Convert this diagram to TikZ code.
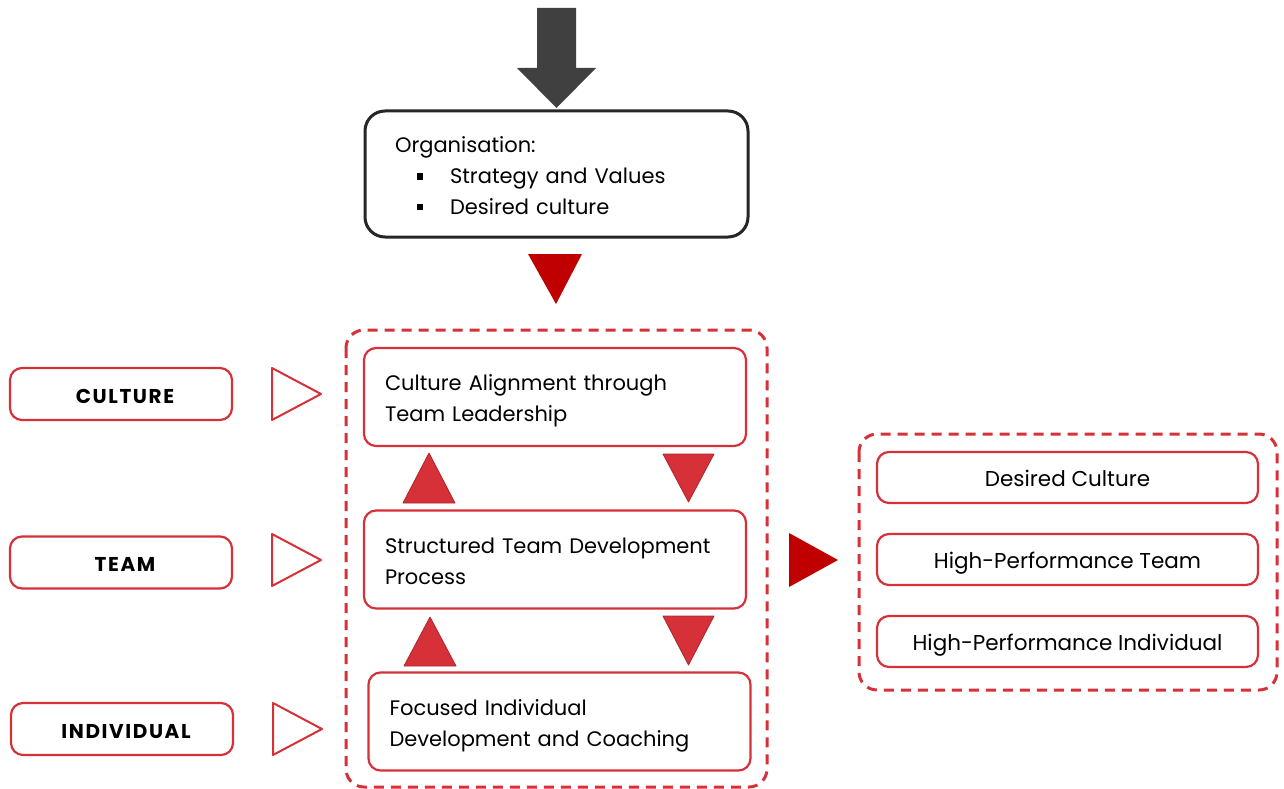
\documentclass[tikz,border=0pt]{standalone}
\usepackage{fontspec}
\setmainfont{Poppins}
\usetikzlibrary{positioning}

\definecolor{brandred}{RGB}{214,48,56}
\definecolor{deepred}{RGB}{192,0,0}
\definecolor{arrowgrey}{RGB}{64,64,64}

\newcommand{\sqbullet}{\rule[4pt]{6pt}{6pt}}

\begin{document}
\begin{tikzpicture}[x=1pt,y=-1pt,line join=round,
  redbox/.style={draw=brandred,line width=2.2pt,rounded corners=12pt,fill=white},
  stepbox/.style={redbox,minimum width=382pt,minimum height=98pt,text width=340pt,
    align=left,inner xsep=21pt,font=\fontsize{21}{31}\selectfont,
    text height=18pt,text depth=31pt},
  resultbox/.style={redbox,minimum width=381pt,minimum height=51pt,inner sep=0pt,
    text height=18pt,text depth=0pt,font=\fontsize{21.5}{24}\selectfont},
  levelbox/.style={redbox,minimum width=222pt,minimum height=52pt,inner sep=0pt,
    text height=18pt,text depth=0pt,execute at begin node=\hspace*{8pt},
    font=\fontsize{20}{22}\bfseries\addfontfeature{LetterSpace=8}},
  groupbox/.style={draw=brandred,line width=3pt,dash pattern=on 10pt off 7pt,rounded corners=18pt},
  pointer/.style={draw=brandred,line width=2pt,fill=white},
  flowtip/.style={fill=brandred,draw=brandred!80!black,line width=0.8pt}]
\useasboundingbox (0,0) rectangle (1284,789);

% incoming arrow and organisation box
\fill[arrowgrey] (537,8) -- (576,8) -- (576,68) -- (596,68) -- (556.5,108)
  -- (517,68) -- (537,68) -- cycle;
\node[draw=black!85,line width=3pt,rounded corners=20pt,minimum width=383pt,minimum height=126pt,
  text width=323pt,align=left,inner xsep=30pt,font=\fontsize{21}{31}\selectfont,
  text height=19pt,text depth=62pt]
  (org) at (556.5,174) {Organisation:\\
  \hspace*{22pt}\sqbullet\hspace*{27pt}Strategy and Values\\
  \hspace*{22pt}\sqbullet\hspace*{27pt}Desired culture};
\fill[deepred] (528,254) -- (582,254) -- (556,304) -- cycle;

% development loop
\draw[groupbox] (346,330) rectangle (767,787);
\node[stepbox] (align) at (555,397)   {Culture Alignment through\\Team Leadership};
\node[stepbox] (team)  at (555,559.5) {Structured Team Development\\Process};
\node[stepbox] (coach) at (559.5,721.5) {Focused Individual\\Development and Coaching};

\draw[flowtip] (403,503) -- (429,453) -- (455,503) -- cycle;
\draw[flowtip] (404,666) -- (430,617) -- (456,666) -- cycle;
\draw[flowtip] (663,454) -- (714,454) -- (688.5,502) -- cycle;
\draw[flowtip] (663,616) -- (714,616) -- (688.5,665) -- cycle;

% levels
\node[levelbox] (culture)    at (121,394)   {CULTURE};
\node[levelbox] (teamlvl)    at (121,562.5) {TEAM};
\node[levelbox] (individual) at (122,729)   {INDIVIDUAL};

\draw[pointer] (272,368) -- (321,394) -- (272,420) -- cycle;
\draw[pointer] (272,534) -- (321,560) -- (272,586) -- cycle;
\draw[pointer] (273,703) -- (322,729) -- (273,755) -- cycle;

% outcomes
\fill[deepred] (789,533) -- (838,560) -- (789,587) -- cycle;
\draw[groupbox] (859,434) rectangle (1277,690);
\node[resultbox] (desired) at (1067.5,477.5) {Desired Culture};
\node[resultbox] (hpteam)  at (1067.5,559.5) {High-Performance Team};
\node[resultbox] (hpind)   at (1067.5,641.5) {High-Performance Individual};
\end{tikzpicture}
\end{document}
